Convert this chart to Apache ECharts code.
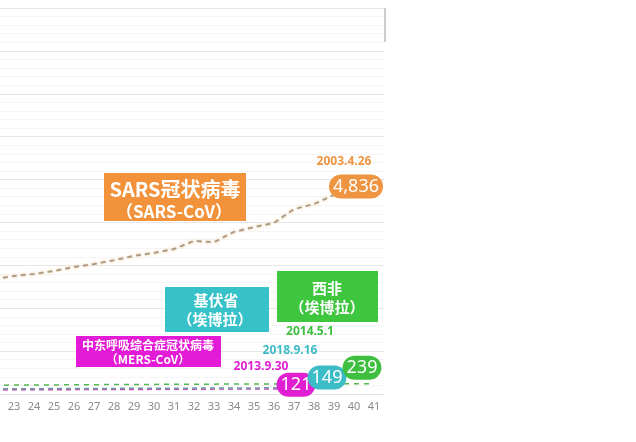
<!DOCTYPE html>
<html><head><meta charset="utf-8">
<script src="https://cdn.jsdelivr.net/npm/echarts@6/dist/echarts.min.js"></script>
<style>html,body{margin:0;padding:0;background:#fff;overflow:hidden;width:636px;height:442px}#c{width:652px;height:442px;margin-left:-16px}</style>
</head><body><div id="c"></div>
<script>
// ---- data ----
const categories = ['22','23','24','25','26','27','28','29','30','31','32','33','34','35','36','37','38','39','40','41'];
const sarsValues = [2680,2750,2800,2870,2960,3030,3120,3220,3290,3380,3570,3540,3780,3890,3990,4310,4430,4640,4836,null];
const westAfricaValues = [205,208,210,212,215,218,220,222,224,226,228,230,231,232,233,234,236,237,239,239];
const kivuValues = [120,122,124,126,128,130,131,132,134,135,137,138,140,142,144,146,147,149,null,null];
const mersValues = [95,97,99,100,102,104,105,107,108,110,112,114,116,118,119,121,null,null,null,null];
const yMax = 9000, yInterval = 1000;
const endLabels = {
  sars: {idx: 18, date: '2003.4.26'},
  mers: {idx: 15, date: '2013.9.30'},
  kivu: {idx: 17, date: '2018.9.16'},
  west: {idx: 18, date: '2014.5.1'}
};

const fmt = v => v.toLocaleString('en-US');
const font = '"Noto Sans", "Noto Sans CJK SC", sans-serif';
const X0 = 16; // container is shifted left by this many px

function endMarks(values, key, color, bubbleOff, dateOff, z) {
  const i = endLabels[key].idx;
  const coord = [categories[i], values[i]];
  return {
    symbol: 'circle', symbolSize: 1, silent: true, z: z,
    itemStyle: {color: 'rgba(0,0,0,0)'},
    data: [
      {coord, label: {show: true, position: 'inside', offset: bubbleOff, formatter: fmt(values[i]),
        color: '#fff', fontSize: 18, fontFamily: font, backgroundColor: color,
        borderRadius: 12, padding: [2, 4, 1, 4], lineHeight: 21}},
      {coord, label: {show: true, position: 'inside', offset: dateOff, formatter: endLabels[key].date,
        color: color, fontSize: 12, fontWeight: 'bold', fontFamily: font}}
    ]
  };
}

function box(x, y, w, h, fill, lines) {
  const els = [{type: 'rect', z: 100, shape: {x: x + X0, y, width: w, height: h}, style: {fill}}];
  lines.forEach(l => els.push({type: 'text', z: 101, x: l.x + X0, y: l.y,
    style: {text: l.t, fill: '#fff', font: 'bold ' + l.s + 'px "Noto Sans CJK SC", sans-serif', textAlign: 'center', textVerticalAlign: 'middle'}}));
  return els;
}

const chart = echarts.init(document.getElementById('c'));
chart.setOption({
  animation: false,
  backgroundColor: '#fff',
  grid: {left: 0, right: 252, top: 8, bottom: 48, containLabel: false},
  xAxis: {
    type: 'category', data: categories, boundaryGap: true,
    axisLine: {lineStyle: {color: '#e4e4e4'}}, axisTick: {show: false},
    axisLabel: {color: '#8a8a8a', fontSize: 11, fontFamily: font, interval: 0, margin: 7},
    splitLine: {show: false}
  },
  yAxis: {
    type: 'value', min: 0, max: yMax, interval: yInterval,
    axisLabel: {show: false}, axisLine: {show: false}, axisTick: {show: false},
    splitLine: {lineStyle: {color: '#e6e6e6', width: 1}},
    minorTick: {show: false, splitNumber: 5},
    minorSplitLine: {show: true, lineStyle: {color: '#f5f5f5', width: 1}}
  },
  series: [
    {name: 'MERS', type: 'line', data: mersValues, symbol: 'none', z: 2,
     lineStyle: {color: '#c44cbc', width: 1.5, type: [5, 4]},
     markPoint: endMarks(mersValues, 'mers', '#e01fd2', [2, -4], [-33, -22], 5)},
    {name: 'Kivu', type: 'line', data: kivuValues, symbol: 'none', z: 3,
     lineStyle: {color: '#6f9aa0', width: 1.5, type: [5, 4]},
     markPoint: endMarks(kivuValues, 'kivu', '#3bbcc6', [-7, -10], [-44, -37], 6)},
    {name: 'WestAfrica', type: 'line', data: westAfricaValues, symbol: 'none', z: 4,
     lineStyle: {color: '#52b852', width: 1.5, type: [5, 5]},
     markPoint: endMarks(westAfricaValues, 'west', '#3fbf3f', [8, -16], [-44, -52], 7)},
    {name: 'SARS', type: 'line', data: sarsValues, symbol: 'none', z: 5,
     lineStyle: {color: '#ad9d88', width: 2, type: [5, 4], shadowColor: 'rgba(245,160,70,0.55)', shadowBlur: 3},
     markPoint: endMarks(sarsValues, 'sars', '#ef9440', [2, 0], [-10, -25], 8)}
  ],
  graphic: [
    {type: 'line', z: 100, shape: {x1: 385 + X0, y1: 8, x2: 385 + X0, y2: 42}, style: {stroke: '#9a9a9a', lineWidth: 1}},
    ...box(104, 173, 142, 48, '#f2923a', [{t: 'SARS冠状病毒', x: 175, y: 189, s: 20}, {t: '（SARS-CoV）', x: 174, y: 212, s: 17}]),
    ...box(165, 287, 104, 45, '#37c2c9', [{t: '基伏省', x: 216, y: 300, s: 15}, {t: '（埃博拉）', x: 215, y: 319, s: 15}]),
    ...box(277, 271, 101, 51, '#3ec63e', [{t: '西非', x: 327, y: 288, s: 15}, {t: '（埃博拉）', x: 327, y: 307, s: 15}]),
    ...box(76, 336, 145, 31, '#e41bd6', [{t: '中东呼吸综合症冠状病毒', x: 148, y: 345, s: 12}, {t: '（MERS-CoV）', x: 148, y: 359, s: 12}])
  ]
});
</script></body></html>
